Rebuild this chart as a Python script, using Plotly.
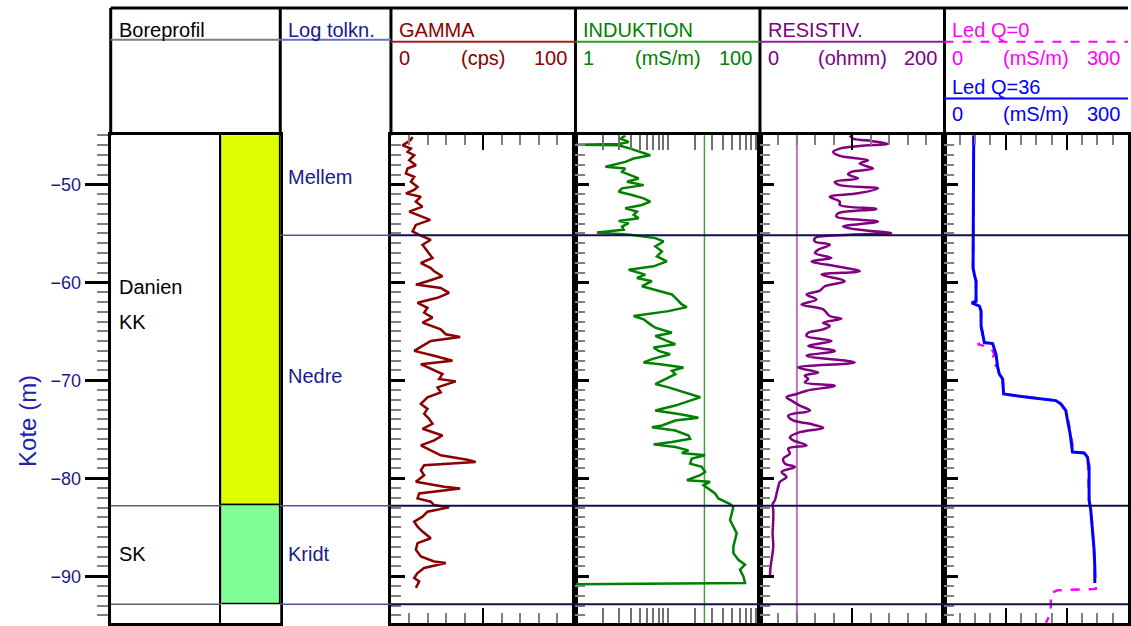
import plotly.graph_objects as go

W, H = 1131, 626

# ---------------- data ----------------
gamma_depth = [-45.17, -45.51, -46.02, -46.35, -46.69, -47.03, -47.54, -48.05, -48.38, -48.89,
               -49.23, -49.74, -50.25, -50.58, -50.92, -51.26, -51.77, -52.28, -52.78, -53.29,
               -53.63, -54.14, -54.81, -55.15, -55.66, -56.17, -56.84, -57.52, -58.03, -58.54,
               -58.87, -59.38, -59.89, -60.23, -60.57, -61.07, -61.58, -62.09, -62.60, -63.10,
               -63.61, -64.12, -64.80, -65.30, -65.58, -65.98, -66.49, -67.00, -67.50, -68.01,
               -68.35, -68.86, -69.37, -69.87, -70.11, -70.72, -71.23, -71.73, -72.41, -72.92,
               -73.43, -73.93, -74.44, -74.95, -75.63, -76.13, -76.64, -77.15, -77.66, -78.10,
               -78.33, -78.67, -79.18, -79.69, -80.36, -80.87, -81.04, -81.55, -82.06, -82.39,
               -82.73, -82.97, -83.41, -83.92, -84.42, -84.93, -85.44, -86.12, -86.62, -87.30,
               -87.98, -88.49, -88.65, -89.16, -89.67, -90.18, -90.52, -91.19]
gamma_cps = [11.7, 10.5, 6.3, 10.8, 9.0, 12.6, 9.9, 13.5, 9.0, 8.1,
             12.6, 10.8, 14.4, 12.6, 8.1, 16.2, 13.5, 17.1, 9.9, 17.1,
             21.3, 13.5, 11.7, 15.3, 21.6, 17.1, 19.8, 22.5, 16.2, 21.6,
             23.4, 27.9, 19.8, 13.5, 27.0, 31.5, 25.2, 14.4, 19.8, 18.0,
             22.5, 17.1, 27.0, 29.7, 37.5, 21.6, 17.1, 12.6, 23.4, 33.3,
             16.2, 21.6, 27.9, 26.1, 35.1, 25.2, 27.0, 19.8, 16.2, 19.8,
             18.0, 20.7, 22.5, 17.1, 27.9, 23.4, 16.2, 21.6, 27.0, 41.4,
             45.9, 18.0, 16.2, 18.0, 13.5, 28.8, 37.5, 15.3, 14.4, 21.6,
             23.4, 31.5, 19.8, 17.1, 12.6, 14.4, 17.1, 21.6, 14.4, 13.5,
             16.2, 23.4, 29.7, 18.0, 14.4, 12.6, 15.3, 13.5]

ind_depth = [-45.00, -45.34, -45.68, -45.88, -45.95, -46.02, -46.35, -46.86, -47.03, -47.37,
             -47.71, -48.21, -48.38, -48.72, -49.06, -49.40, -49.74, -50.08, -50.41, -50.75,
             -51.09, -51.43, -51.77, -52.11, -52.45, -52.78, -53.12, -53.46, -53.73, -53.97,
             -54.31, -54.64, -54.92, -55.15, -55.49, -55.83, -56.34, -56.84, -57.35, -57.86,
             -58.37, -58.71, -59.21, -59.55, -59.89, -60.40, -60.74, -61.24, -61.75, -62.26,
             -62.53, -62.94, -63.44, -63.78, -64.29, -64.63, -65.14, -65.47, -65.98, -66.32,
             -66.66, -67.00, -67.34, -67.84, -68.18, -68.35, -68.69, -69.03, -69.37, -69.87,
             -70.38, -70.72, -71.23, -71.73, -72.07, -72.58, -73.09, -73.49, -73.83, -74.10,
             -74.61, -74.78, -75.12, -75.63, -75.96, -76.30, -76.54, -76.81, -77.15, -77.42,
             -77.66, -77.99, -78.50, -78.84, -79.35, -79.69, -80.19, -80.36, -80.70, -81.04,
             -81.55, -82.06, -82.39, -82.63, -82.90, -83.58, -84.26, -84.93, -85.61, -86.29,
             -86.96, -87.64, -88.32, -88.82, -89.33, -90.01, -90.69, -90.82]
ind_mSm = [3.47, 3.07, 3.77, 2.94, 1.0, 2.94, 3.93, 5.71, 6.47, 4.27,
           3.47, 2.11, 3.47, 3.20, 3.93, 4.84, 3.62, 5.48, 3.20, 2.94,
           4.10, 5.48, 6.47, 5.26, 3.47, 4.64, 4.27, 4.84, 2.94, 3.77,
           3.20, 3.33, 1.71, 3.93, 7.33, 9.01, 7.33, 8.65, 7.64, 9.79,
           7.03, 3.77, 5.71, 4.64, 6.74, 5.26, 7.03, 11.1, 12.6, 14.2,
           16.1, 10.2, 4.27, 5.48, 6.47, 7.33, 11.1, 7.33, 9.79, 12.1,
           7.03, 7.96, 10.6, 6.74, 5.48, 8.30, 14.8, 11.1, 12.1, 9.40,
           7.33, 10.2, 15.5, 22.5, 17.5, 12.1, 7.33, 14.2, 21.5, 12.1,
           8.65, 6.74, 12.1, 16.8, 17.5, 11.1, 7.03, 12.1, 16.8, 14.2,
           25.4, 18.2, 17.5, 23.4, 25.4, 22.5, 16.1, 28.8, 24.4, 27.6,
           32.6, 35.4, 41.9, 47.4, 51.5, 49.4, 47.4, 51.5, 55.9, 53.7,
           51.5, 51.5, 58.3, 68.9, 60.8, 66.1, 68.9, 1.0]

res_depth = [-45.00, -45.34, -45.51, -45.85, -46.08, -46.35, -46.69, -47.10, -47.54, -47.88,
             -48.38, -48.72, -48.99, -49.40, -49.74, -50.08, -50.41, -50.92, -51.26, -51.77,
             -52.11, -52.51, -52.95, -53.29, -53.80, -54.31, -54.64, -54.98, -55.15, -55.49,
             -55.83, -56.17, -56.68, -57.01, -57.52, -57.86, -58.37, -58.87, -59.21, -59.89,
             -60.40, -60.84, -61.24, -61.75, -62.26, -62.77, -63.44, -63.71, -64.12, -64.46,
             -64.80, -65.14, -65.47, -65.98, -66.49, -67.00, -67.50, -68.18, -68.69, -69.20,
             -69.53, -69.87, -70.21, -70.55, -71.06, -71.40, -71.73, -72.07, -72.58, -73.09,
             -73.60, -74.10, -74.44, -74.85, -75.29, -75.80, -76.13, -76.64, -76.98, -77.49,
             -77.99, -78.50, -78.84, -79.35, -79.86, -80.36, -80.87, -81.55, -82.23, -82.63,
             -83.24, -84.26, -85.61, -86.96, -88.32, -88.99, -90.01]
res_ohmm = [97.3, 100.9, 115.3, 138.7, 108.1, 86.5, 79.3, 86.5, 117.1, 108.1,
            122.5, 99.1, 95.5, 106.3, 81.1, 86.5, 127.9, 106.3, 75.7, 86.5,
            86.5, 126.1, 84.7, 82.9, 127.9, 90.1, 108.1, 142.3, 97.3, 59.5,
            59.5, 75.7, 63.1, 59.5, 77.5, 55.9, 82.9, 108.1, 66.7, 91.9,
            70.3, 64.9, 50.5, 61.3, 45.0, 68.5, 75.7, 88.3, 68.5, 75.7,
            68.5, 52.3, 50.5, 77.5, 52.3, 81.1, 50.5, 102.7, 41.4, 63.1,
            48.6, 52.3, 48.6, 81.1, 50.5, 39.6, 28.8, 34.2, 43.2, 54.1,
            30.6, 36.0, 54.1, 68.5, 43.2, 32.4, 36.0, 50.5, 30.6, 32.4,
            25.2, 27.0, 37.8, 23.4, 28.8, 21.6, 19.8, 18.0, 16.2, 13.7,
            14.4, 14.4, 13.7, 14.4, 12.6, 11.5, 10.8]

led0_depth = [-45.00, -48.38, -51.77, -55.15, -58.54, -59.21, -59.89, -61.92, -62.09, -62.43,
              -62.94, -64.46, -65.30, -65.81, -66.15, -66.32, -66.66, -67.34, -68.01, -68.35,
              -68.69, -69.37, -70.04, -71.40, -71.73, -72.07, -72.41, -73.09, -74.10, -75.46,
              -76.81, -77.32, -77.42, -77.83, -78.84, -82.23, -83.24, -84.93, -87.30, -88.99,
              -91.02, -91.29, -91.43, -91.70, -93.05, -94.07, -94.75]
led0_mSm = [47.8, 47.8, 46.7, 46.7, 46.7, 48.9, 51.6, 51.6, 46.2, 57.1,
            59.8, 59.8, 62.5, 62.5, 59.8, 54.4, 76.1, 81.5, 76.1, 81.5,
            87.0, 89.7, 95.1, 96.7, 135.9, 182.1, 190.2, 198.4, 202.2, 206.5,
            209.8, 209.2, 228.3, 233.7, 234.8, 236.4, 239.1, 241.9, 244.6, 245.7,
            247.3, 247.3, 184.8, 173.9, 173.9, 171.2, 165.8]

led36_depth = [-45.00, -48.38, -51.77, -55.15, -58.54, -59.21, -59.89, -61.92, -62.09, -62.43,
               -62.94, -64.46, -65.30, -65.81, -66.15, -66.25, -66.66, -67.34, -68.69, -69.37,
               -69.87, -71.40, -71.73, -72.07, -72.41, -73.09, -74.10, -75.46, -76.81, -77.32,
               -77.42, -77.83, -78.84, -82.23, -83.24, -84.93, -87.30, -88.99, -90.69]
led36_mSm = [47.8, 47.8, 46.7, 46.7, 46.7, 48.9, 51.6, 51.6, 44.6, 57.1,
             59.8, 59.8, 62.5, 65.2, 65.2, 78.8, 80.4, 84.2, 87.0, 89.7,
             95.1, 96.7, 135.9, 182.1, 190.2, 198.4, 201.1, 205.4, 208.2, 209.2,
             228.3, 233.7, 236.4, 236.4, 239.1, 241.9, 244.6, 245.7, 245.7]

bore_units = ["Danien KK", "SK"]
bore_top = [-44.0, -82.8]
bore_bottom = [-82.8, -92.85]
bore_colors = ["#DDFF00", "#80FF96"]
bore_labels = ["Danien", "KK", "SK"]
bore_label_depth = [-60.46, -64.01, -87.77]

tolk_labels = ["Mellem", "Nedre", "Kridt"]
tolk_label_depth = [-49.29, -69.59, -87.77]
tolk_boundaries = [-55.2, -82.8, -92.85]

ind_cutoff = 25      # mS/m
res_cutoff = 40      # ohmm

depth_range = [-94.77, -45.0]

# ---------------- layout helpers ----------------
FONT = "Liberation Sans, Arial, sans-serif"
NAVY = "#1a1a8c"
C_GAMMA = "#8B0000"
C_IND = "#008000"
C_RES = "#800080"
C_Q0 = "#FF00FF"
C_Q36 = "#0000FF"


def px(x):
    return x / W


def py(y):
    return 1 - y / H


cols = {
    "bore": (111, 281), "bar": (222, 281), "tolk": (281, 392),
    "gamma": (392, 577), "ind": (577, 762), "res": (762, 947), "led": (947, 1131),
}
ydom = [0, py(136)]

fig = go.Figure()

# Boreprofil bars
fig.add_trace(go.Bar(
    x=[0.5] * len(bore_units), y=[t - b for t, b in zip(bore_top, bore_bottom)],
    base=bore_bottom, width=1.0, marker=dict(color=bore_colors, line=dict(color="black", width=1.5)),
    xaxis="x2", yaxis="y2", showlegend=False, hoverinfo="skip"))

fig.add_trace(go.Scatter(x=gamma_cps, y=gamma_depth, mode="lines",
                         line=dict(color=C_GAMMA, width=2.5), xaxis="x4", yaxis="y4", showlegend=False))
fig.add_trace(go.Scatter(x=ind_mSm, y=ind_depth, mode="lines",
                         line=dict(color=C_IND, width=2.5), xaxis="x5", yaxis="y5", showlegend=False))
fig.add_trace(go.Scatter(x=res_ohmm, y=res_depth, mode="lines", line_shape="spline",
                         line=dict(color=C_RES, width=2.5), xaxis="x6", yaxis="y6", showlegend=False))
fig.add_trace(go.Scatter(x=led0_mSm, y=led0_depth, mode="lines",
                         line=dict(color=C_Q0, width=2.5, dash="dash"), xaxis="x7", yaxis="y7", showlegend=False))
fig.add_trace(go.Scatter(x=led36_mSm, y=led36_depth, mode="lines",
                         line=dict(color=C_Q36, width=3), xaxis="x7", yaxis="y7", showlegend=False))

layout = dict(
    width=W, height=H, margin=dict(l=0, r=0, t=0, b=0),
    paper_bgcolor="white", plot_bgcolor="white",
    font=dict(family=FONT, size=20, color="black"),
    showlegend=False, bargap=0,
)

base_x = dict(showgrid=False, zeroline=False, showline=True, linecolor="black", linewidth=3,
              showticklabels=False, fixedrange=True)
panel_y = dict(showgrid=False, zeroline=False, showline=True, linecolor="black", linewidth=3,
               mirror=True, showticklabels=False, range=depth_range, domain=ydom, matches="y",
               ticks="inside", ticklen=14, tickwidth=3, tickcolor="black", dtick=10, tick0=0,
               minor=dict(ticks="inside", dtick=1, tick0=0, ticklen=10, tickwidth=2, tickcolor="#808080"))

# Boreprofil column (main depth axis)
layout["xaxis"] = dict(base_x, domain=[px(cols["bore"][0]), px(cols["bore"][1])], range=[0, 1],
                       anchor="y", mirror=True, ticks="")
layout["yaxis"] = dict(showgrid=False, zeroline=False, showline=True, linecolor="black", linewidth=3,
                       mirror=True, range=depth_range, domain=ydom, anchor="x",
                       ticks="outside", ticklen=23, tickwidth=3, tickcolor="black", dtick=10, tick0=0,
                       tickfont=dict(size=18, color=NAVY, family=FONT),
                       minor=dict(ticks="outside", dtick=1, tick0=0, ticklen=11, tickwidth=2,
                                  tickcolor="#808080"),
                       fixedrange=True)
# colour bar column
layout["xaxis2"] = dict(base_x, domain=[px(cols["bar"][0]), px(cols["bar"][1])], range=[0, 1],
                        anchor="y2", showline=False, ticks="")
layout["yaxis2"] = dict(showgrid=False, zeroline=False, showline=True, linecolor="black", linewidth=2,
                        showticklabels=False, ticks="", range=depth_range, domain=ydom,
                        matches="y", anchor="x2")
# Log tolkn column
layout["xaxis3"] = dict(base_x, domain=[px(cols["tolk"][0]), px(cols["tolk"][1])], range=[0, 1],
                        anchor="y3", mirror=True, ticks="")
layout["yaxis3"] = dict(showgrid=False, zeroline=False, showline=True, linecolor="black", linewidth=3,
                        mirror=True, showticklabels=False, ticks="", range=depth_range, domain=ydom,
                        matches="y", anchor="x3")
# Gamma
layout["xaxis4"] = dict(base_x, domain=[px(cols["gamma"][0]), px(cols["gamma"][1])], range=[0, 100],
                        anchor="y4", side="top", mirror="ticks", ticks="inside", ticklen=15, tickwidth=2,
                        tickcolor="black", dtick=50, tick0=0,
                        minor=dict(ticks="inside", dtick=10, tick0=0, ticklen=10, tickwidth=2,
                                   tickcolor="#808080"))
layout["yaxis4"] = dict(panel_y, anchor="x4")
# Induktion (log)
layout["xaxis5"] = dict(base_x, domain=[px(cols["ind"][0]), px(cols["ind"][1])], type="log", range=[0, 2],
                        anchor="y5", side="top", mirror="ticks", ticks="inside", ticklen=15, tickwidth=2,
                        tickcolor="#707070", dtick="D1")
layout["yaxis5"] = dict(panel_y, anchor="x5")
# Resistiv
layout["xaxis6"] = dict(base_x, domain=[px(cols["res"][0]), px(cols["res"][1])], range=[0, 200],
                        anchor="y6", side="top", mirror="ticks", ticks="inside", ticklen=15, tickwidth=2,
                        tickcolor="black", dtick=100, tick0=0,
                        minor=dict(ticks="inside", dtick=20, tick0=0, ticklen=10, tickwidth=2,
                                   tickcolor="#808080"))
layout["yaxis6"] = dict(panel_y, anchor="x6")
# Led
layout["xaxis7"] = dict(base_x, domain=[px(cols["led"][0]), px(cols["led"][1])], range=[0, 300],
                        anchor="y7", side="top", mirror="ticks", ticks="inside", ticklen=15, tickwidth=2,
                        tickcolor="black", dtick=100, tick0=0,
                        minor=dict(ticks="inside", dtick=25, tick0=0, ticklen=10, tickwidth=2,
                                   tickcolor="#808080"))
layout["yaxis7"] = dict(panel_y, anchor="x7")

fig.update_layout(**layout)

shapes = []


def hline_px(x0, x1, y, color, width=2, dash="solid"):
    shapes.append(dict(type="line", xref="paper", yref="paper", x0=px(x0), x1=px(x1), y0=py(y), y1=py(y),
                       line=dict(color=color, width=width, dash=dash), layer="above"))


def vline_px(x, y0, y1, color="black", width=3):
    shapes.append(dict(type="line", xref="paper", yref="paper", x0=px(x), x1=px(x), y0=py(y0), y1=py(y1),
                       line=dict(color=color, width=width), layer="above"))


# header frame
hline_px(111, 1131, 8, "black", 3)
for xx in [111, 281, 392, 577, 762, 947]:
    vline_px(xx, 8, 136)
hline_px(111, 281, 40, "#808080", 2)
hline_px(281, 392, 40, "#7070c0", 2)
hline_px(392, 577, 42, "#a02020", 2)
hline_px(577, 762, 42, "#20a020", 2)
hline_px(762, 947, 42, "#902090", 2)
hline_px(947, 1131, 42, C_Q0, 2, "dash")
hline_px(947, 1131, 99, C_Q36, 2)

# unit boundaries
for d in bore_bottom:
    shapes.append(dict(type="line", xref="paper", yref="y", x0=px(111), x1=px(222), y0=d, y1=d,
                       line=dict(color="#606060", width=1.5), layer="above"))
for d in tolk_boundaries:
    shapes.append(dict(type="line", xref="paper", yref="y", x0=px(281), x1=px(392), y0=d, y1=d,
                       line=dict(color="#5050a0", width=1.5), layer="above"))
    shapes.append(dict(type="line", xref="paper", yref="y", x0=px(392), x1=px(1131), y0=d, y1=d,
                       line=dict(color="#10104a", width=2), layer="above"))

# cutoff lines
shapes.append(dict(type="line", xref="x5", yref="y5 domain", x0=ind_cutoff, x1=ind_cutoff, y0=0, y1=1,
                   line=dict(color="#40a040", width=1.5), layer="below"))
shapes.append(dict(type="line", xref="x6", yref="y6 domain", x0=res_cutoff, x1=res_cutoff, y0=0, y1=1,
                   line=dict(color="#c070c0", width=2), layer="below"))

annotations = []


def text_px(x, y, s, color, anchor="left", size=20):
    annotations.append(dict(x=px(x), y=py(y), xref="paper", yref="paper", text=s, showarrow=False,
                            xanchor=anchor, yanchor="middle", font=dict(family=FONT, size=size, color=color)))


text_px(117, 30, "Boreprofil", "black")
text_px(287, 30, "Log tolkn.", NAVY)
text_px(398, 30, "GAMMA", C_GAMMA)
text_px(583, 30, "INDUKTION", C_IND)
text_px(768, 30, "RESISTIV.", C_RES)
text_px(953, 30, "Led Q=0", C_Q0)
text_px(953, 87, "Led Q=36", C_Q36)

scales = [
    (392, 577, "0", "(cps)", "100", C_GAMMA, 58),
    (577, 762, "1", "(mS/m)", "100", C_IND, 58),
    (762, 947, "0", "(ohmm)", "200", C_RES, 58),
    (947, 1131, "0", "(mS/m)", "300", C_Q0, 58),
    (947, 1131, "0", "(mS/m)", "300", C_Q36, 115),
]
for x0, x1, lo, unit, hi, c, yy in scales:
    text_px(x0 + 6, yy, lo, c, "left")
    text_px((x0 + x1) / 2, yy, unit, c, "center")
    text_px(x1 - 6, yy, hi, c, "right")

for s, d in zip(bore_labels, bore_label_depth):
    annotations.append(dict(x=px(117), y=d, xref="paper", yref="y", text=s, showarrow=False,
                            xanchor="left", yanchor="middle", font=dict(family=FONT, size=20, color="black")))
for s, d in zip(tolk_labels, tolk_label_depth):
    annotations.append(dict(x=px(287), y=d, xref="paper", yref="y", text=s, showarrow=False,
                            xanchor="left", yanchor="middle", font=dict(family=FONT, size=20, color=NAVY)))

annotations.append(dict(x=px(28), y=py(423), xref="paper", yref="paper", text="Kote (m)", showarrow=False,
                        textangle=-90, xanchor="center", yanchor="middle",
                        font=dict(family=FONT, size=24, color="#2020b0")))

fig.update_layout(shapes=shapes, annotations=annotations)

fig.write_html("out.html")
